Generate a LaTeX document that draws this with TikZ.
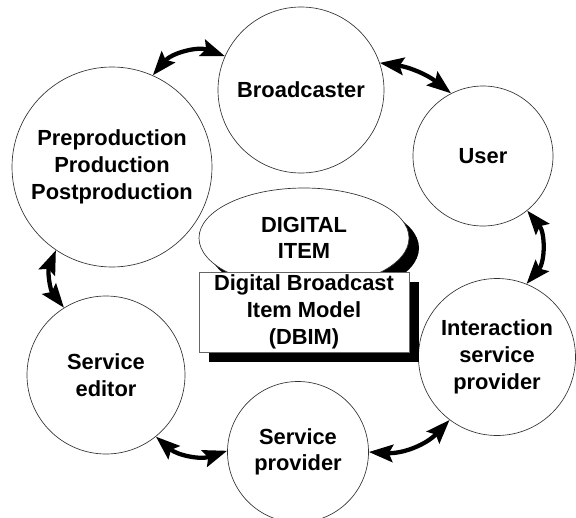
\documentclass[tikz,border=0pt]{standalone}
\usepackage{fontspec}
\setmainfont{Liberation Sans}
\usepackage{tikz}
\usetikzlibrary{arrows.meta,shapes.geometric}

\begin{document}
\begin{tikzpicture}[x=0.75pt,y=-0.75pt,
    role/.style={circle,draw=black!80,line width=0.5pt,inner sep=0pt,align=center,
        font=\fontsize{16.4}{20}\selectfont\bfseries},
    link/.style={{Stealth[length=18pt,width=13pt,inset=3pt]}-{Stealth[length=18pt,width=13pt,inset=3pt]},line width=3.2pt}]
    \useasboundingbox (0,0) rectangle (576,518);
    % actors round the model
    \node[role,minimum size=150pt] (pre) at (112,167) {Preproduction\\Production\\Postproduction};
    \node[role,minimum size=124.5pt] (bro) at (301,90) {Broadcaster};
    \node[role,minimum size=105pt] (user) at (483,156) {User};
    \node[role,minimum size=117.75pt] (isp) at (497,357) {Interaction\\service\\provider};
    \node[role,minimum size=105.75pt] (sp) at (298,452) {Service\\provider};
    \node[role,minimum size=118.5pt] (se) at (106,375) {Service\\editor};
    % the model in the middle
    \fill (314,248) ellipse [x radius=78.75pt, y radius=37.5pt];
    \node[role,ellipse,fill=white,minimum width=157.5pt,minimum height=75pt] (item) at (304,238) {DIGITAL\\ITEM};
    \fill (209,282) rectangle (419,362);
    \node[role,rectangle,draw=black!60,fill=white,minimum width=157.5pt,minimum height=60pt] (dbim) at (304,312) {Digital Broadcast\\Item Model\\(DBIM)};
    % exchanges
    \draw[link] (pre.66) to[bend left=35] (bro.156);
    \draw[link] (bro.19) to[bend left=15] (user.117);
    \draw[link] (user.309) to[bend left=40] (isp.68);
    \draw[link] (isp.233) to[bend left=25] (sp.0);
    \draw[link] (sp.179) to[bend left=30] (se.309);
    \draw[link] (se.122) to[bend left=30] (pre.236);
\end{tikzpicture}
\end{document}
